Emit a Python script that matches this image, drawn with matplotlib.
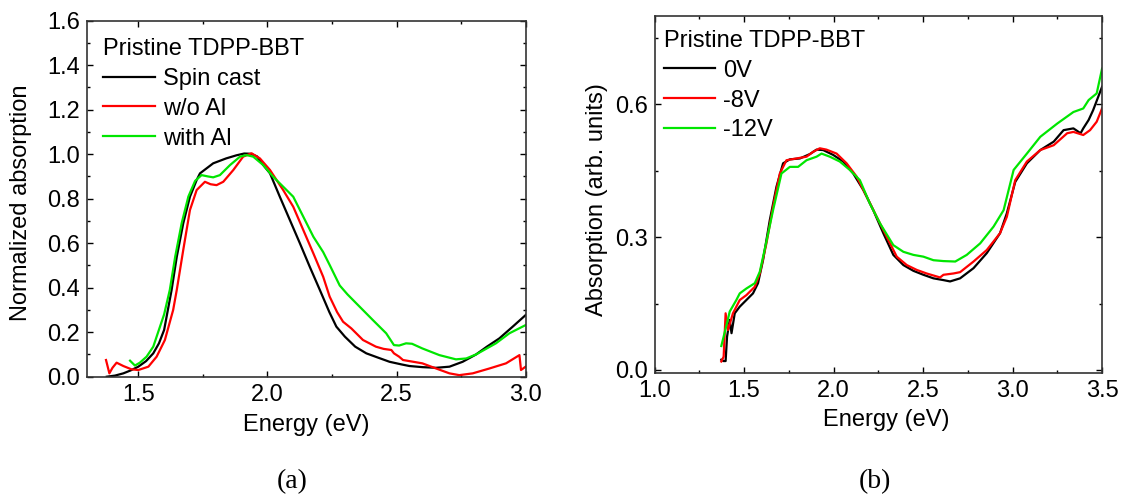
import matplotlib
matplotlib.use("Agg")
import matplotlib.pyplot as plt
from matplotlib.ticker import MultipleLocator, FormatStrFormatter

plt.rcParams['font.family'] = ['Liberation Sans', 'DejaVu Sans']

# ---- panel (a): normalized absorption ----
e_spin = [1.378, 1.41, 1.442, 1.47, 1.50, 1.53, 1.558, 1.58, 1.60, 1.629, 1.649, 1.674, 1.70, 1.726,
          1.739, 1.79, 1.84, 1.88, 1.91, 1.935, 1.96, 1.984, 2.01, 2.048, 2.087, 2.126, 2.164, 2.203,
          2.24, 2.267, 2.30, 2.34, 2.383, 2.43, 2.473, 2.52, 2.55, 2.60, 2.653, 2.705, 2.756, 2.808,
          2.85, 2.898, 2.95, 3.0]
a_spin = [0.0, 0.005, 0.015, 0.028, 0.045, 0.07, 0.105, 0.15, 0.21, 0.39, 0.539, 0.689, 0.809, 0.884,
          0.914, 0.959, 0.981, 0.995, 1.003, 1.002, 0.99, 0.951, 0.914, 0.809, 0.704, 0.599, 0.494, 0.39,
          0.29, 0.225, 0.18, 0.135, 0.105, 0.085, 0.067, 0.055, 0.048, 0.043, 0.040, 0.045, 0.067, 0.10,
          0.135, 0.172, 0.225, 0.277]

e_woal = [1.375, 1.388, 1.40, 1.416, 1.442, 1.474, 1.50, 1.539, 1.571, 1.603, 1.635, 1.649, 1.674, 1.70,
          1.726, 1.758, 1.78, 1.803, 1.829, 1.868, 1.906, 1.939, 1.971, 2.01, 2.061, 2.10, 2.139, 2.178,
          2.216, 2.241, 2.27, 2.293, 2.325, 2.37, 2.42, 2.45, 2.48, 2.49, 2.51, 2.525, 2.56, 2.60, 2.653,
          2.705, 2.743, 2.795, 2.86, 2.924, 2.976, 2.982, 3.0]
a_woal = [0.075, 0.015, 0.04, 0.063, 0.048, 0.033, 0.03, 0.045, 0.09, 0.165, 0.30, 0.39, 0.569, 0.749,
          0.839, 0.876, 0.865, 0.861, 0.876, 0.929, 0.989, 1.004, 0.981, 0.929, 0.839, 0.764, 0.659, 0.554,
          0.449, 0.36, 0.29, 0.247, 0.217, 0.165, 0.135, 0.125, 0.12, 0.105, 0.09, 0.075, 0.068, 0.06, 0.037,
          0.015, 0.007, 0.015, 0.037, 0.06, 0.097, 0.03, 0.045]

e_wal = [1.468, 1.487, 1.506, 1.532, 1.558, 1.584, 1.60, 1.622, 1.643, 1.668, 1.694, 1.72, 1.745, 1.77,
         1.79, 1.816, 1.855, 1.894, 1.919, 1.945, 1.984, 2.022, 2.061, 2.10, 2.139, 2.178, 2.216, 2.242,
         2.28, 2.31, 2.344, 2.408, 2.46, 2.49, 2.51, 2.537, 2.56, 2.60, 2.666, 2.73, 2.77, 2.808, 2.885,
         2.937, 3.0]
a_wal = [0.072, 0.05, 0.063, 0.09, 0.135, 0.225, 0.28, 0.39, 0.54, 0.69, 0.81, 0.88, 0.906, 0.90,
         0.896, 0.906, 0.951, 0.989, 0.996, 0.989, 0.951, 0.899, 0.854, 0.809, 0.719, 0.629, 0.56, 0.50,
         0.41, 0.37, 0.33, 0.255, 0.195, 0.142, 0.14, 0.15, 0.148, 0.127, 0.097, 0.078, 0.082, 0.10, 0.15,
         0.195, 0.232]

# ---- panel (b): absorption vs gate bias ----
e_0v = [1.373, 1.385, 1.397, 1.405, 1.42, 1.43, 1.448, 1.476, 1.513, 1.55, 1.578, 1.606, 1.644, 1.681,
        1.718, 1.756, 1.812, 1.868, 1.905, 1.942, 1.998, 2.054, 2.11, 2.166, 2.222, 2.278, 2.334, 2.39,
        2.446, 2.502, 2.558, 2.614, 2.651, 2.707, 2.782, 2.856, 2.93, 2.968, 3.015, 3.08, 3.155, 3.23,
        3.285, 3.34, 3.38, 3.395, 3.425, 3.45, 3.5]
a_0v = [0.023, 0.02, 0.02, 0.075, 0.113, 0.083, 0.128, 0.143, 0.158, 0.173, 0.196, 0.248, 0.339, 0.414,
        0.467, 0.476, 0.478, 0.488, 0.498, 0.497, 0.486, 0.471, 0.444, 0.407, 0.361, 0.309, 0.26, 0.237,
        0.224, 0.215, 0.207, 0.203, 0.20, 0.207, 0.23, 0.264, 0.309, 0.354, 0.425, 0.467, 0.497, 0.516,
        0.542, 0.546, 0.535, 0.546, 0.565, 0.587, 0.64]

e_8v = [1.373, 1.386, 1.397, 1.41, 1.438, 1.476, 1.513, 1.56, 1.588, 1.625, 1.662, 1.70, 1.737, 1.793,
        1.849, 1.886, 1.923, 1.96, 2.017, 2.073, 2.129, 2.185, 2.241, 2.297, 2.353, 2.409, 2.465, 2.52,
        2.595, 2.614, 2.67, 2.707, 2.782, 2.856, 2.93, 2.968, 3.015, 3.08, 3.155, 3.23, 3.305, 3.34,
        3.395, 3.433, 3.47, 3.5]
a_8v = [0.019, 0.03, 0.128, 0.09, 0.128, 0.158, 0.169, 0.188, 0.218, 0.286, 0.369, 0.444, 0.474, 0.478,
        0.482, 0.493, 0.501, 0.498, 0.489, 0.467, 0.437, 0.392, 0.346, 0.301, 0.256, 0.237, 0.226, 0.218,
        0.209, 0.215, 0.218, 0.221, 0.245, 0.271, 0.309, 0.346, 0.429, 0.471, 0.497, 0.508, 0.535, 0.538,
        0.531, 0.542, 0.561, 0.591]

e_12v = [1.373, 1.40, 1.42, 1.457, 1.476, 1.513, 1.56, 1.588, 1.625, 1.662, 1.709, 1.756, 1.802, 1.849,
         1.905, 1.933, 1.979, 2.035, 2.091, 2.147, 2.203, 2.26, 2.334, 2.39, 2.446, 2.502, 2.558, 2.614,
         2.68, 2.744, 2.819, 2.894, 2.95, 3.006, 3.08, 3.155, 3.25, 3.34, 3.395, 3.425, 3.47, 3.5]
a_12v = [0.054, 0.098, 0.132, 0.158, 0.173, 0.184, 0.196, 0.222, 0.29, 0.361, 0.444, 0.459, 0.459, 0.474,
         0.482, 0.489, 0.482, 0.471, 0.452, 0.429, 0.376, 0.331, 0.282, 0.267, 0.26, 0.256, 0.248, 0.246,
         0.245, 0.26, 0.286, 0.324, 0.361, 0.452, 0.489, 0.527, 0.557, 0.583, 0.591, 0.61, 0.625, 0.681]

legend_title = "Pristine TDPP-BBT"
labels_a = ["Spin cast", "w/o Al", "with Al"]
labels_b = ["0V", "-8V", "-12V"]
colors = ["black", "#ff0000", "#00e600"]

FS = 17


def style_axes(ax, xmaj, ymaj):
  ax.xaxis.set_major_locator(MultipleLocator(xmaj))
  ax.xaxis.set_minor_locator(MultipleLocator(xmaj / 2))
  ax.yaxis.set_major_locator(MultipleLocator(ymaj))
  ax.yaxis.set_minor_locator(MultipleLocator(ymaj / 2))
  ax.xaxis.set_major_formatter(FormatStrFormatter("%.1f"))
  ax.yaxis.set_major_formatter(FormatStrFormatter("%.1f"))
  ax.tick_params(which="both", direction="in", top=True, right=True, labelsize=FS, pad=5)
  ax.tick_params(which="major", length=4, width=1)
  ax.tick_params(which="minor", length=2.5, width=1)
  for s in ax.spines.values():
    s.set_linewidth(1.2)
    s.set_color("#333333")


def add_legend(ax, labels, anchor):
  leg = ax.legend(labels, loc="upper left", bbox_to_anchor=anchor, frameon=False,
                  title=legend_title, title_fontsize=FS, fontsize=FS, alignment="left",
                  handlelength=2.18, handletextpad=0.34, labelspacing=0.33,
                  borderpad=0, borderaxespad=0)
  return leg


fig = plt.figure(figsize=(11.21, 4.99), dpi=100)

# panel (a)
ax1 = fig.add_axes([0.0773, 0.2451, 0.3916, 0.7134])
for e, a, c in zip([e_spin, e_woal, e_wal], [a_spin, a_woal, a_wal], colors):
  ax1.plot(e, a, color=c, lw=1.6)
ax1.set_xlim(1.3, 3.0)
ax1.set_ylim(0.0, 1.6)
style_axes(ax1, 0.5, 0.2)
ax1.set_xlabel("Energy (eV)", fontsize=FS)
ax1.set_ylabel("Normalized absorption", fontsize=FS)
ax1.xaxis.set_label_coords(0.5, -0.105)
ax1.yaxis.set_label_coords(-0.125, 0.49)
add_legend(ax1, labels_a, (0.038, 0.951))

# panel (b)
ax2 = fig.add_axes([0.5839, 0.2525, 0.3992, 0.7154])
for e, a, c in zip([e_0v, e_8v, e_12v], [a_0v, a_8v, a_12v], colors):
  ax2.plot(e, a, color=c, lw=1.6)
ax2.set_xlim(1.0, 3.5)
ax2.set_ylim(-0.007, 0.80)
style_axes(ax2, 0.5, 0.3)
ax2.set_xlabel("Energy (eV)", fontsize=FS)
ax2.set_ylabel("Absorption (arb. units)", fontsize=FS)
ax2.xaxis.set_label_coords(0.517, -0.101)
ax2.yaxis.set_label_coords(-0.104, 0.485)
add_legend(ax2, labels_b, (0.02, 0.961))

# sub-figure captions
serif = ["Liberation Serif", "DejaVu Serif"]
fig.text(292 / 1121, 0.034, "(a)", fontsize=20, family=serif, ha="center", va="center")
fig.text(875 / 1121, 0.034, "(b)", fontsize=20, family=serif, ha="center", va="center")

plt.savefig("out.png", dpi=100)
plt.close()
